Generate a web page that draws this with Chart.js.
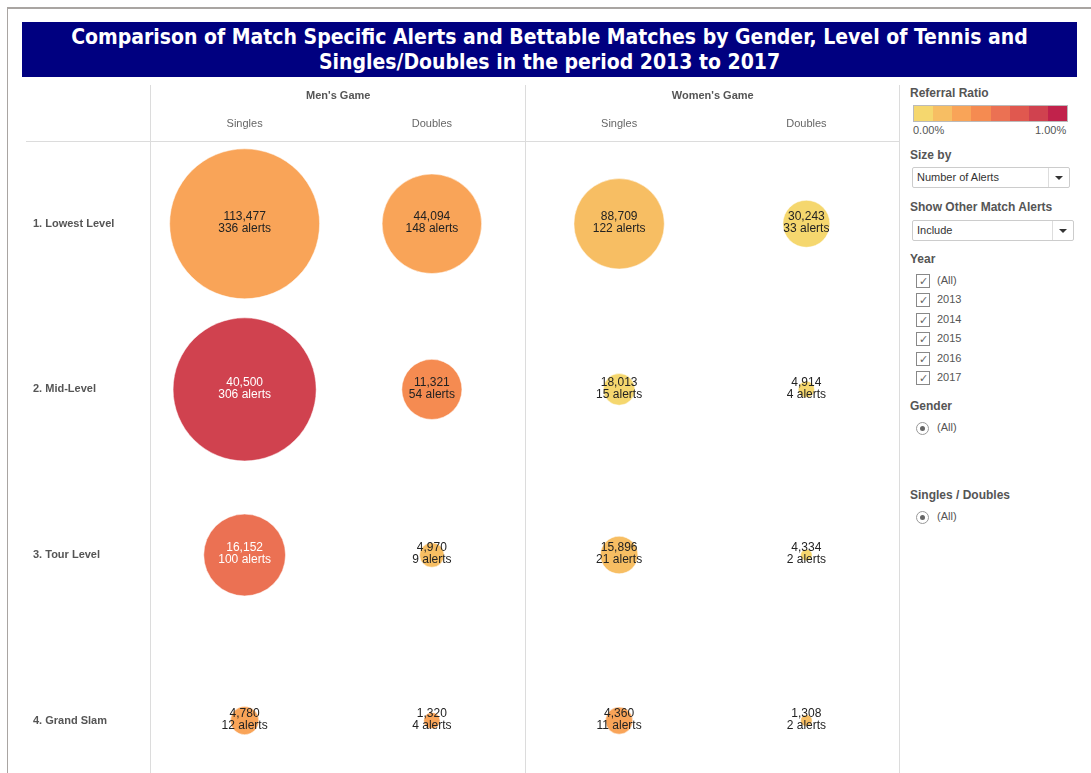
<!DOCTYPE html>
<html>
<head>
<meta charset="utf-8">
<script src="https://cdn.jsdelivr.net/npm/chart.js@4.4.1/dist/chart.umd.min.js"></script>
<style>
  html, body { margin: 0; padding: 0; background: #fff; overflow: hidden; }
  body { width: 1091px; height: 773px; position: relative; font-family: "Liberation Sans", Arial, sans-serif; }
  #frame { position: absolute; left: 7px; top: 7px; right: 0; bottom: 0; border-top: 2px solid #a9a5a2; border-left: 1px solid #a9a5a2; }
  #title { position: absolute; left: 22px; top: 22px; width: 1055px; height: 55px; background: #000080; color: #fff;
           font-family: "DejaVu Sans Condensed", "Liberation Sans Narrow", sans-serif; font-weight: bold; font-size: 21px;
           line-height: 25px; text-align: center; padding-top: 3px; box-sizing: border-box; }
  #bubbles { position: absolute; left: 26px; top: 80px; }
  #panel { position: absolute; left: 910px; top: 84px; width: 170px; color: #555; font-size: 12px; }
  .hd { font-weight: bold; font-size: 12px; color: #555; position: absolute; left: 0; white-space: nowrap; }
  .ramp { position: absolute; left: 3px; top: 21px; width: 153px; height: 15px; border: 1px solid #bbb; display: flex; }
  .ramp span { flex: 1; }
  .rl { position: absolute; font-size: 11px; color: #555; }
  .dd { position: absolute; left: 2px; height: 19px; border: 1px solid #ccc; border-radius: 2px; font-size: 11px; color: #333;
        line-height: 19px; padding-left: 4px; box-sizing: content-box; }
  .dd i { position: absolute; right: 0; top: 0; width: 20px; height: 19px; border-left: 1px solid #ddd; }
  .dd i:after { content: ""; position: absolute; left: 6px; top: 8px; border-left: 4px solid transparent; border-right: 4px solid transparent; border-top: 4px solid #333; }
  .cb { position: absolute; left: 6px; font-size: 11px; color: #555; white-space: nowrap; }
  .cb b { display: inline-block; width: 12px; height: 12px; border: 1px solid #888; vertical-align: middle; margin-right: 7px;
          font-weight: normal; font-size: 11px; line-height: 12px; text-align: center; color: #666; }
  .rd b { display: inline-block; width: 11px; height: 11px; border: 1px solid #999; border-radius: 50%; vertical-align: middle; margin-right: 8px; position: relative; }
  .rd b:after { content: ""; position: absolute; left: 3px; top: 3px; width: 5px; height: 5px; border-radius: 50%; background: #666; }
</style>
</head>
<body>
<div id="frame"></div>
<div id="title">Comparison of Match Specific Alerts and Bettable Matches by Gender, Level of Tennis and<br>Singles/Doubles in the period 2013 to 2017</div>
<canvas id="bubbles" width="874" height="733"></canvas>
<div id="panel">
  <div class="hd" style="top:2px">Referral Ratio</div>
  <div class="ramp" id="ramp"></div>
  <div class="rl" style="left:3px;top:40px" id="rampMin"></div>
  <div class="rl" style="left:125px;top:40px" id="rampMax"></div>
  <div class="hd" style="top:64px">Size by</div>
  <div class="dd" style="top:83px;width:152px">Number of Alerts<i></i></div>
  <div class="hd" style="top:116px">Show Other Match Alerts</div>
  <div class="dd" style="top:136px;width:156px">Include<i></i></div>
  <div class="hd" style="top:168px">Year</div>
  <div id="years"></div>
  <div class="hd" style="top:315px">Gender</div>
  <div class="cb rd" style="top:337px"><b></b>(All)</div>
  <div class="hd" style="top:404px">Singles / Doubles</div>
  <div class="cb rd" style="top:426px"><b></b>(All)</div>
</div>
<script>
// rows and columns of the grid
const levels = ['1. Lowest Level', '2. Mid-Level', '3. Tour Level', '4. Grand Slam'];
const playTypes = ['Singles', 'Doubles', 'Singles', 'Doubles'];
const genders = ["Men's Game", "Women's Game"];

// bettable matches and alerts per level (lowest -> grand slam)
const menSinglesMatches = [113477, 40500, 16152, 4780];
const menSinglesAlerts = [336, 306, 100, 12];
const menDoublesMatches = [44094, 11321, 4970, 1320];
const menDoublesAlerts = [148, 54, 9, 4];
const womenSinglesMatches = [88709, 18013, 15896, 4360];
const womenSinglesAlerts = [122, 15, 21, 11];
const womenDoublesMatches = [30243, 4914, 4334, 1308];
const womenDoublesAlerts = [33, 4, 2, 2];

// referral ratio colour ramp (0.00% .. 1.00%, 8 steps)
const rampColors = ['#f5d76e', '#f7be63', '#f9a458', '#f58b51', '#eb7153', '#e0584f', '#d0424f', '#c1224b'];
const rampLabels = ['0.00%', '1.00%'];
const years = ['(All)', '2013', '2014', '2015', '2016', '2017'];

// side panel bits
const ramp = document.getElementById('ramp');
rampColors.forEach(c => { const s = document.createElement('span'); s.style.background = c; ramp.appendChild(s); });
document.getElementById('rampMin').textContent = rampLabels[0];
document.getElementById('rampMax').textContent = rampLabels[1];
const yb = document.getElementById('years');
years.forEach((y, i) => {
  const d = document.createElement('div');
  d.className = 'cb';
  d.style.top = (190 + i * 19.4) + 'px';
  d.innerHTML = '<b>&#10003;</b>' + y;
  yb.appendChild(d);
});

const columns = [
  [menSinglesMatches, menSinglesAlerts],
  [menDoublesMatches, menDoublesAlerts],
  [womenSinglesMatches, womenSinglesAlerts],
  [womenDoublesMatches, womenDoublesAlerts]
];

function ratioColor(ratio) {
  const step = Math.min(rampColors.length - 1, Math.floor(ratio / 0.01 * rampColors.length));
  return rampColors[step];
}

const datasets = columns.map((col, ci) => {
  const [matches, alerts] = col;
  const pts = levels.map((lv, li) => ({
    x: ci + 1, y: li + 1,
    r: 4.09 * Math.sqrt(alerts[li]),
    matches: matches[li], alerts: alerts[li], ratio: alerts[li] / matches[li]
  }));
  return {
    label: genders[Math.floor(ci / 2)] + ' ' + playTypes[ci],
    data: pts,
    backgroundColor: pts.map(p => ratioColor(p.ratio)),
    borderColor: 'rgba(255,255,255,0.5)',
    borderWidth: 1
  };
});

const gridColor = '#dcdcdc';
const panes = {
  id: 'panes',
  beforeDraw(chart) {
    const { ctx, chartArea, scales } = chart;
    ctx.save();
    ctx.strokeStyle = gridColor;
    ctx.lineWidth = 1;
    [0.5, 2.5, 4.5].forEach(v => {
      const x = Math.round(scales.x.getPixelForValue(v)) - 0.5;
      ctx.beginPath(); ctx.moveTo(x, 5); ctx.lineTo(x, chart.height); ctx.stroke();
    });
    const y = Math.round(chartArea.top) + 0.5;
    ctx.beginPath(); ctx.moveTo(0, y); ctx.lineTo(chartArea.right, y); ctx.stroke();
    ctx.fillStyle = '#555';
    ctx.font = 'bold 11px "Liberation Sans", Arial, sans-serif';
    ctx.textAlign = 'center';
    ctx.textBaseline = 'middle';
    genders.forEach((g, i) => ctx.fillText(g, scales.x.getPixelForValue(1.5 + i * 2), 16));
    ctx.restore();
  },
  afterDatasetsDraw(chart) {
    const { ctx } = chart;
    ctx.save();
    ctx.font = '12px "Liberation Sans", Arial, sans-serif';
    ctx.textAlign = 'center';
    ctx.textBaseline = 'middle';
    chart.data.datasets.forEach((ds, di) => {
      chart.getDatasetMeta(di).data.forEach((el, i) => {
        const p = ds.data[i];
        ctx.fillStyle = p.ratio >= 0.005 ? '#fff' : '#222';
        ctx.fillText(p.matches.toLocaleString('en-US'), el.x, el.y - 7);
        ctx.fillText(p.alerts + ' alerts', el.x, el.y + 5);
      });
    });
    ctx.restore();
  }
};

new Chart(document.getElementById('bubbles'), {
  type: 'bubble',
  data: { datasets },
  options: {
    responsive: false,
    animation: false,
    layout: { autoPadding: false, padding: { left: 7, top: 0, right: 0, bottom: 0 } },
    plugins: { legend: { display: false }, tooltip: { enabled: false } },
    scales: {
      x: {
        type: 'linear', position: 'top', min: 0.5, max: 4.5,
        afterBuildTicks: s => { s.ticks = playTypes.map((t, i) => ({ value: i + 1 })); },
        afterFit: s => { s.height = 61; },
        grid: { display: false, drawTicks: false },
        border: { display: false },
        ticks: { padding: 10, color: '#666', font: { size: 11, family: '"Liberation Sans", Arial' },
                 callback: v => playTypes[v - 1] }
      },
      y: {
        type: 'linear', reverse: true, min: 0.5, max: 4.5,
        afterBuildTicks: s => { s.ticks = levels.map((t, i) => ({ value: i + 1 })); },
        afterFit: s => { s.width = 118; },
        grid: { display: false, drawTicks: false },
        border: { display: false },
        ticks: { crossAlign: 'far', color: '#555', font: { size: 11, weight: 'bold', family: '"Liberation Sans", Arial' },
                 callback: v => levels[v - 1] }
      }
    }
  },
  plugins: [panes]
});
</script>
</body>
</html>
